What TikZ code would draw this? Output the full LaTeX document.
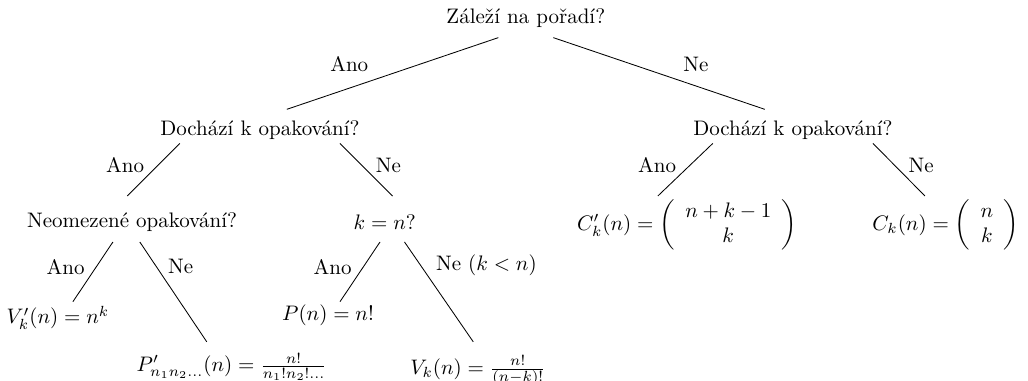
\documentclass[tikz,border=0pt]{standalone}
\usetikzlibrary{calc}
\tikzset{
    question/.style={inner sep=3.33pt},
    result/.style={inner sep=3.33pt},
    branch/.style={draw=black, line width=0.4pt},
    lbl/.style={inner sep=3.33pt}
}
\begin{document}
\begin{tikzpicture}
    \useasboundingbox (0,0) rectangle (17.205,-6.36);
    % questions
    \node[question] (root) at (8.80,-0.30) {Záleží na pořadí?};
    \node[question] (repL) at (4.35,-2.18) {Dochází k opakování?};
    \node[question] (repR) at (13.27,-2.18) {Dochází k opakování?};
    \node[question] (unlim) at (2.21,-3.72) {Neomezené opakování?};
    \node[question] (keqn) at (6.44,-3.72) {$k = n$?};
    % results
    \node[result] (Cr) at (11.50,-3.77) {$C'_k(n) = \left( \begin{array}{c} n+k-1 \\ k \end{array} \right)$};
    \node[result] (C) at (15.83,-3.77) {$C_k(n) = \left( \begin{array}{c} n \\ k \end{array} \right)$};
    \node[result] (Vr) at (0.97,-5.32) {$V'_k(n) = n^k$};
    \node[result] (Pr) at (3.88,-6.14) {$P'_{n_1n_2\ldots}(n) = \frac{n!}{n_1!n_2!\ldots}$};
    \node[result] (P) at (5.49,-5.27) {$P(n) = n!$};
    \node[result] (V) at (8.00,-6.20) {$V_k(n) = \frac{n!}{(n-k)!}$};
    % branches
    \draw[branch] ($(root)+(-0.46,-0.33)$) -- ($(repL)+(0.45,0.35)$) node[lbl,pos=.58,above left] {Ano};
    \draw[branch] ($(root)+(0.46,-0.33)$) -- ($(repR)+(-0.47,0.35)$) node[lbl,pos=.58,above right] {Ne};
    \draw[branch] ($(repL)+(-1.34,-0.22)$) -- ($(unlim)+(-0.08,0.44)$) node[lbl,pos=.42,left,xshift=-3pt] {Ano};
    \draw[branch] ($(repL)+(1.34,-0.22)$) -- ($(keqn)+(0.13,0.44)$) node[lbl,pos=.42,right,xshift=3pt] {Ne};
    \draw[branch] ($(repR)+(-1.34,-0.22)$) -- ($(Cr)+(-0.49,0.49)$) node[lbl,pos=.42,left,xshift=-3pt] {Ano};
    \draw[branch] ($(repR)+(1.34,-0.22)$) -- ($(C)+(-0.35,0.49)$) node[lbl,pos=.42,right,xshift=3pt] {Ne};
    \draw[branch] ($(unlim)+(-0.32,-0.33)$) -- ($(Vr)+(0.25,0.27)$) node[lbl,pos=.42,left,xshift=-2pt] {Ano};
    \draw[branch] ($(unlim)+(0.13,-0.33)$) -- ($(Pr)+(-0.42,0.42)$) node[lbl,pos=.25,right,xshift=2pt] {Ne};
    \draw[branch] ($(keqn)+(-0.08,-0.33)$) -- ($(P)+(0.20,0.22)$) node[lbl,pos=.42,left,xshift=-2pt] {Ano};
    \draw[branch] ($(keqn)+(0.33,-0.33)$) -- ($(V)+(-0.08,0.48)$) node[lbl,pos=.23,right,xshift=4pt] {Ne ($k < n$)};
\end{tikzpicture}
\end{document}
